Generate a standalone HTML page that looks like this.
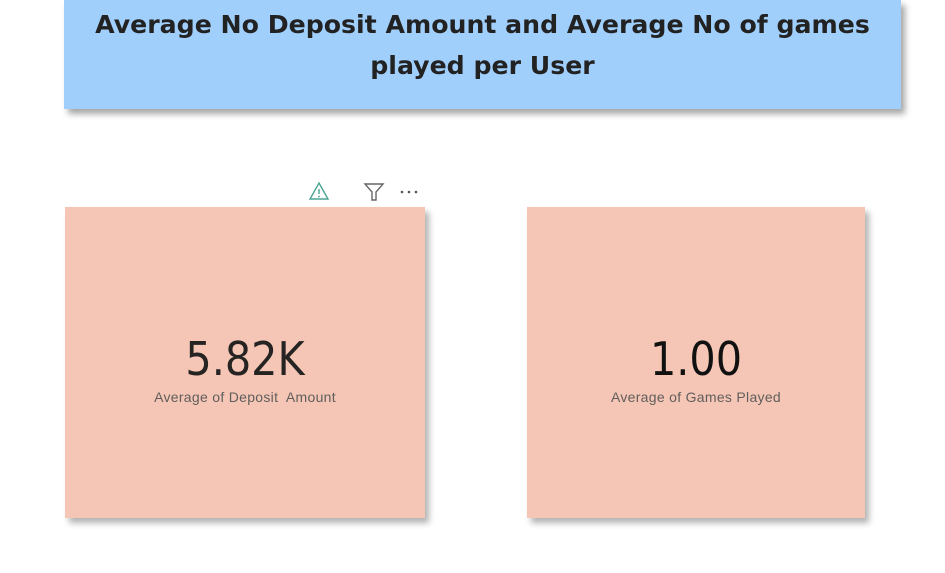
<!DOCTYPE html>
<html><head><meta charset="utf-8"><style>
body{margin:0;width:945px;height:573px;background:#fff;position:relative;overflow:hidden;font-family:"Liberation Sans",sans-serif}
.title{position:absolute;left:64px;top:0;width:837px;height:109px;background:#a0cffc;box-shadow:4px 5px 6px rgba(0,0,0,.35);text-align:center;font-family:"Comic Sans MS","DejaVu Sans",sans-serif;font-weight:bold;font-size:25.2px;line-height:41px;color:#222;padding-top:4px;box-sizing:border-box}
.card{position:absolute;top:207px;height:311px;background:#f5c6b5;box-shadow:4px 5px 6px rgba(0,0,0,.3);text-align:center}
.val{position:absolute;left:0;right:0;top:126px;font-size:46px;line-height:52px;color:#252423;font-family:"DejaVu Sans Condensed","Liberation Sans Narrow","Liberation Sans",sans-serif}
.lbl{position:absolute;left:0;right:0;top:182px;font-size:14px;letter-spacing:0.3px;color:#605e5c}
</style></head><body>
<div class="title">Average No Deposit Amount and Average No of games<br>played per User</div>
<svg style="position:absolute;left:308px;top:181px" width="120" height="22">
<g><path d="M11 2 L20 18 L2 18 Z" fill="none" stroke="#4aa591" stroke-width="1.4"/><line x1="11" y1="8" x2="11" y2="13" stroke="#4aa591" stroke-width="1.4"/><circle cx="11" cy="15.5" r="0.9" fill="#4aa591"/></g>
<g><path d="M57 3 L75 3 L68 11 L68 19 L64 19 L64 11 Z" fill="none" stroke="#666" stroke-width="1.4"/></g>
<g><circle cx="94" cy="11" r="1.3" fill="#555"/><circle cx="101" cy="11" r="1.3" fill="#555"/><circle cx="108" cy="11" r="1.3" fill="#555"/></g>
</svg>
<div class="card" style="left:65px;width:360px">
<div class="val">5.82K</div>
<div class="lbl">Average of Deposit&nbsp; Amount</div>
</div>
<div class="card" style="left:527px;width:338px">
<div class="val" style="color:#111">1.00</div>
<div class="lbl">Average of Games Played</div>
</div>
</body></html>
